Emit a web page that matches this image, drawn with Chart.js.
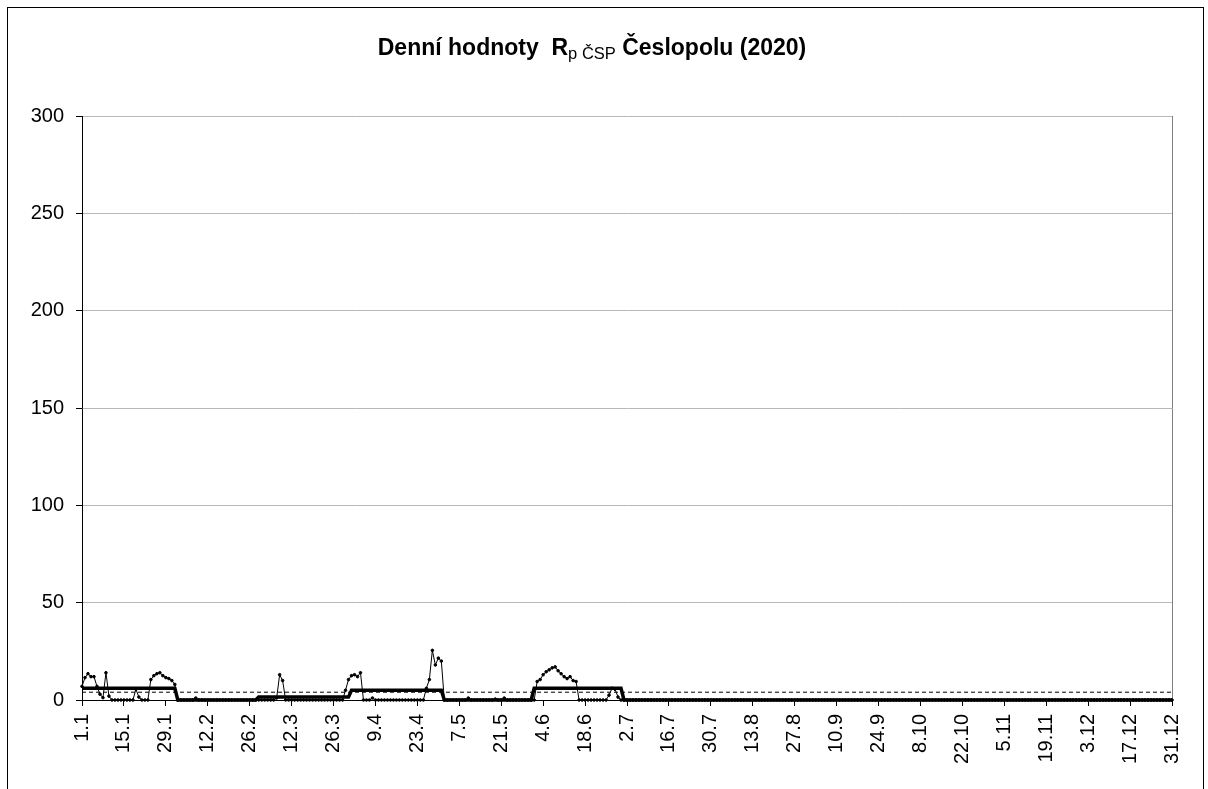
<!DOCTYPE html>
<html>
<head>
<meta charset="utf-8">
<script src="https://cdn.jsdelivr.net/npm/chart.js@4.4.1/dist/chart.umd.min.js"></script>
<style>
  html, body { margin: 0; padding: 0; background: #fff; overflow: hidden; }
  canvas { display: block; }
</style>
</head>
<body>
<canvas id="chart" width="1208" height="789"></canvas>
<script>
// dny v roce (popisky bez 29.2, jako v originale)
const monthDays = [31, 28, 31, 30, 31, 30, 31, 31, 30, 31, 30, 31];
const labels = [];
monthDays.forEach((n, m) => {
    for (let d = 1; d <= n; d++) labels.push(d + '.' + (m + 1));
});

// denni hodnoty Rp CSP
const dailyJan = [7, 11.5, 13.5, 12, 12, 7, 3, 1.2, 14, 2,
    0, 0, 0, 0, 0, 0, 0, 0, 5.5, 1.5,
    0, 0, 0, 10.5, 12.5, 13.5, 14, 12.5, 11.5, 11,
    10];
const dailyFeb = [8, 0, 0, 0, 0, 0, 0, 1, 0, 0,
    0, 0, 0, 0, 0, 0, 0, 0, 0, 0,
    0, 0, 0, 0, 0, 0, 0, 0];
const dailyMar = [0, 0, 0, 0, 0, 0, 1, 13, 10, 0,
    0, 0, 0, 0, 0, 0, 0, 0, 0, 0,
    0, 0, 0, 0, 0, 0, 0, 0, 0, 5,
    10.5];
const dailyApr = [12.5, 13, 12, 14, 0, 0, 0, 1, 0, 0,
    0, 0, 0, 0, 0, 0, 0, 0, 0, 0,
    0, 0, 0, 0, 0, 6, 10.5, 25.5, 18, 21.5];
const dailyMay = [20, 0, 0, 0, 0, 0, 0, 0, 0, 1,
    0, 0, 0, 0, 0, 0, 0, 0, 0.5, 0,
    0, 1, 0, 0, 0, 0, 0, 0, 0, 0,
    0];
const dailyJun = [0, 9.5, 10.5, 13, 14.5, 15.5, 16.5, 17, 15, 13.5,
    12, 11, 12, 10, 9.5, 0, 0, 0, 0, 0,
    0, 0, 0, 0, 0, 2.5, 6, 5.5, 1.5, 0];
const dailyJul = [0, 0, 0, 0, 0, 0, 0, 0, 0, 0, 0, 0, 0, 0, 0, 0, 0, 0, 0, 0, 0, 0, 0, 0, 0, 0, 0, 0, 0, 0, 0];
const dailyAug = [0, 0, 0, 0, 0, 0, 0, 0, 0, 0, 0, 0, 0, 0, 0, 0, 0, 0, 0, 0, 0, 0, 0, 0, 0, 0, 0, 0, 0, 0, 0];
const dailySep = [0, 0, 0, 0, 0, 0, 0, 0, 0, 0, 0, 0, 0, 0, 0, 0, 0, 0, 0, 0, 0, 0, 0, 0, 0, 0, 0, 0, 0, 0];
const dailyOct = [0, 0, 0, 0, 0, 0, 0, 0, 0, 0, 0, 0, 0, 0, 0, 0, 0, 0, 0, 0, 0, 0, 0, 0, 0, 0, 0, 0, 0, 0, 0];
const dailyNov = [0, 0, 0, 0, 0, 0, 0, 0, 0, 0, 0, 0, 0, 0, 0, 0, 0, 0, 0, 0, 0, 0, 0, 0, 0, 0, 0, 0, 0, 0];
const dailyDec = [0, 0, 0, 0, 0, 0, 0, 0, 0, 0, 0, 0, 0, 0, 0, 0, 0, 0, 0, 0, 0, 0, 0, 0, 0, 0, 0, 0, 0, 0, 0];

const daily = [].concat(dailyJan, dailyFeb, dailyMar, dailyApr, dailyMay, dailyJun,
    dailyJul, dailyAug, dailySep, dailyOct, dailyNov, dailyDec);

// prumer za obdobi (silna cara) - body zlomu
const periodAvg = [
    {x: '1.1', y: 6}, {x: '1.2', y: 6}, {x: '2.2', y: 0}, {x: '28.2', y: 0},
    {x: '1.3', y: 1.5}, {x: '31.3', y: 1.5}, {x: '1.4', y: 5}, {x: '1.5', y: 5},
    {x: '2.5', y: 0}, {x: '31.5', y: 0}, {x: '1.6', y: 6}, {x: '30.6', y: 6},
    {x: '1.7', y: 0}, {x: '31.12', y: 0}
];

// prahova hodnota (carkovana)
const threshold = [{x: '1.1', y: 4}, {x: '31.12', y: 4}];

const yMin = 0, yMax = 300, yStep = 50;
const labelEvery = 14;

const FONT = '"Liberation Sans", Arial, sans-serif';

const frameAndTitle = {
    id: 'frameAndTitle',
    beforeDraw(chart) {
        const c = chart.ctx;
        c.save();
        c.fillStyle = '#fff';
        c.fillRect(0, 0, chart.width, chart.height);
        c.strokeStyle = '#000';
        c.lineWidth = 1;
        c.strokeRect(7.5, 7.5, 1196, 800);
        c.restore();
    },
    afterDraw(chart) {
        const c = chart.ctx;
        const parts = [
            {t: 'Denní hodnoty  R', f: 'bold 23px ' + FONT, dy: 0},
            {t: 'p ČSP', f: '16.5px ' + FONT, dy: 4},
            {t: ' Česlopolu (2020)', f: 'bold 23px ' + FONT, dy: 0}
        ];
        c.save();
        c.fillStyle = '#000';
        c.textBaseline = 'alphabetic';
        let total = 0;
        parts.forEach(p => { c.font = p.f; p.w = c.measureText(p.t).width; total += p.w; });
        let x = 592 - total / 2;
        parts.forEach(p => {
            c.font = p.f;
            c.fillText(p.t, x, 55 + p.dy);
            x += p.w;
        });
        c.restore();
    }
};

new Chart(document.getElementById('chart'), {
    type: 'line',
    data: {
        labels: labels,
        datasets: [
            {
                label: 'denní hodnoty',
                data: daily,
                borderColor: '#000',
                backgroundColor: '#000',
                borderWidth: 1,
                pointRadius: 1.3,
                pointBorderWidth: 1,
                pointBackgroundColor: '#000',
                pointBorderColor: '#000',
                tension: 0,
                clip: false
            },
            {
                label: 'průměr',
                data: periodAvg,
                borderColor: '#000',
                borderWidth: 3.5,
                pointRadius: 0,
                tension: 0,
                clip: false
            },
            {
                label: 'práh',
                data: threshold,
                borderColor: '#000',
                borderWidth: 1,
                borderDash: [4, 3],
                pointRadius: 0,
                tension: 0
            }
        ]
    },
    options: {
        responsive: false,
        animation: false,
        layout: { padding: { top: 116, left: 0, right: 0, bottom: 0 } },
        plugins: {
            legend: { display: false },
            title: { display: false },
            tooltip: { enabled: false }
        },
        scales: {
            x: {
                ticks: {
                    autoSkip: false,
                    minRotation: 90,
                    maxRotation: 90,
                    color: '#000',
                    padding: 8,
                    font: { family: FONT, size: 20 },
                    callback: (val, i) => (i % labelEvery === 0 ? labels[i] : '')
                },
                grid: {
                    drawOnChartArea: false,
                    tickLength: 6,
                    color: ctx => (ctx.index % labelEvery === 0 ? '#000' : 'rgba(0,0,0,0)')
                },
                border: { color: '#000' },
                afterFit(scale) { scale.height = 89; }
            },
            y: {
                min: yMin,
                max: yMax,
                ticks: {
                    stepSize: yStep,
                    color: '#000',
                    padding: 12,
                    font: { family: FONT, size: 20 }
                },
                grid: { color: '#b8b8b8', tickColor: '#000', tickLength: 6 },
                border: { color: '#000' },
                afterFit(scale) { scale.width = 82; }
            },
            yR: {
                position: 'right',
                min: yMin,
                max: yMax,
                ticks: { display: false },
                grid: { drawOnChartArea: false, drawTicks: false },
                border: { color: '#808080' },
                afterFit(scale) { scale.width = 36; }
            }
        }
    },
    plugins: [frameAndTitle]
});
</script>
</body>
</html>
